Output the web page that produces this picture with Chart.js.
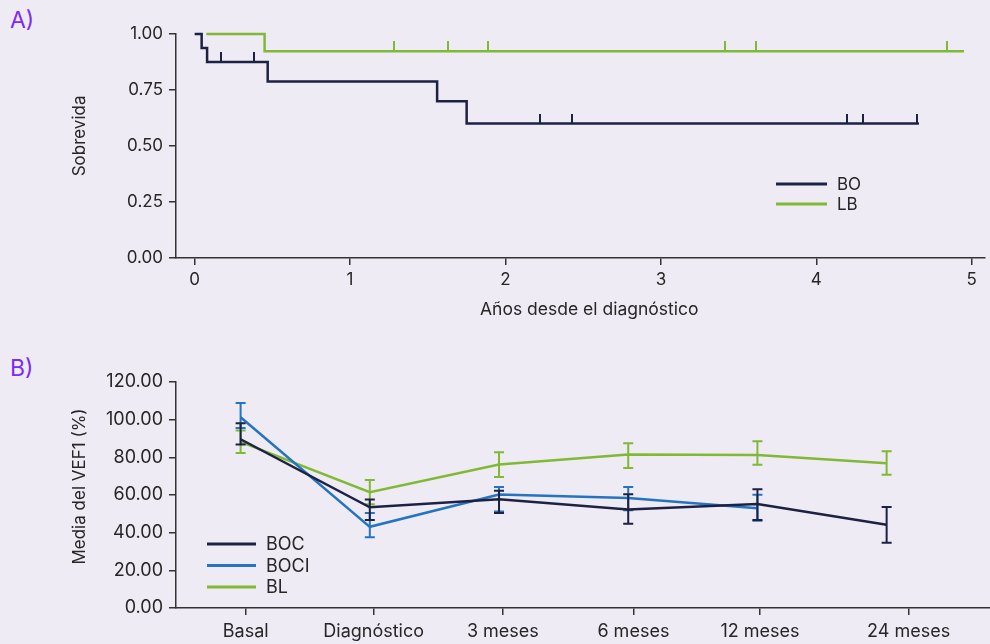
<!DOCTYPE html>
<html>
<head>
<meta charset="utf-8">
<script src="https://cdn.jsdelivr.net/npm/chart.js@4/dist/chart.umd.min.js"></script>
<style>
html, body { margin: 0; padding: 0; background: #eeebf4; }
body { width: 990px; height: 644px; position: relative; overflow: hidden; font-family: Inter, sans-serif; }
.panel { position: absolute; left: 0; }
.tag { position: absolute; left: 10px; color: #7b2cf2; font-size: 23px; line-height: 24px; }
</style>
</head>
<body>
<div class="tag" style="top:8px">A)</div>
<div class="tag" style="top:356px">B)</div>
<canvas id="chartA" class="panel" style="top:0" width="990" height="320"></canvas>
<canvas id="chartB" class="panel" style="top:320px" width="990" height="324"></canvas>
<script>
// Panel A - Kaplan-Meier survival (years since diagnosis)
var boTimes = [0, 0.045, 0.08, 0.47, 1.56, 1.75, 4.66];
var boSurv = [1, 0.9375, 0.875, 0.7875, 0.70, 0.60, 0.60];
var boCensored = [0.17, 0.38, 2.22, 2.43, 4.20, 4.30, 4.65];
var lbTimes = [0.075, 0.45, 4.95];
var lbSurv = [1, 0.923, 0.923];
var lbCensored = [1.28, 1.63, 1.89, 3.41, 3.61, 4.84];

// Panel B - mean FEV1 (%) with error bars
var timeLabels = ['Basal', 'Diagnóstico', '3 meses', '6 meses', '12 meses', '24 meses'];
// the category ticks in the figure sit a little right of the data points
var tickPositions = [0.04, 1.03, 2.03, 3.04, 4.02, 5.17];
var bocMean = [89.6, 53.5, 57.7, 52.3, 55.2, 44.2];
var bocHigh = [98.1, 57.6, 62.2, 60.4, 63.1, 53.6];
var bocLow = [86.8, 46.7, 50.5, 44.7, 46.7, 34.6];
var bociMean = [101.3, 43.1, 60.2, 58.4, 53.0];
var bociHigh = [108.9, 50.5, 64.3, 64.3, 60.1];
var bociLow = [95.6, 37.6, 51.3, 51.9, 46.3];
var blMean = [88.2, 61.5, 76.2, 81.5, 81.3, 76.9];
var blHigh = [94.2, 67.9, 82.7, 87.5, 88.5, 83.2];
var blLow = [82.3, 55.1, 69.6, 74.4, 76.0, 70.7];

var navy = '#1d2244';
var blue = '#2474c0';
var green = '#80b935';
var axisColor = '#333333';
var textColor = '#262626';

// Survival value at a given time (step function lookup)
function survAt(times, surv, t) {
    var s = surv[0];
    times.forEach(function (tt, i) {
        if (tt <= t) s = surv[i];
    });
    return s;
}

// Small vertical tick used as the censoring marker (sits on top of the curve)
function censorMark(color) {
    var c = document.createElement('canvas');
    c.width = 2;
    c.height = 20;
    var g = c.getContext('2d');
    g.fillStyle = color;
    g.fillRect(0, 0, 2, 10);
    return c;
}

function toXY(xs, ys) {
    return xs.map(function (x, i) { return { x: x, y: ys[i] }; });
}

// Legend drawn inside the plot like in the original figure
var lineLegend = {
    id: 'lineLegend',
    afterDraw: function (chart, args, opts) {
        var ctx = chart.ctx;
        ctx.save();
        ctx.font = opts.font;
        ctx.textBaseline = 'middle';
        var items = chart.data.datasets.filter(function (d) { return !d.censor; });
        items.forEach(function (ds, i) {
            var y = opts.y + i * opts.rowGap;
            ctx.strokeStyle = ds.borderColor;
            ctx.lineWidth = 3;
            ctx.beginPath();
            ctx.moveTo(opts.x, y);
            ctx.lineTo(opts.x + opts.lineLen, y);
            ctx.stroke();
            ctx.fillStyle = textColor;
            ctx.fillText(ds.label, opts.x + opts.lineLen + opts.gap, y + 1);
        });
        ctx.restore();
    }
};

// Error bars, drawn right after each dataset so the stacking order is kept
var errorBars = {
    id: 'errorBars',
    afterDatasetDraw: function (chart, args) {
        var ds = chart.data.datasets[args.index];
        if (!ds.errLow) return;
        var ctx = chart.ctx;
        var xs = chart.scales.x, ys = chart.scales.y;
        ctx.save();
        ctx.strokeStyle = ds.borderColor;
        ctx.lineWidth = 2;
        ds.data.forEach(function (p, i) {
            var x = xs.getPixelForValue(p.x);
            var yLo = ys.getPixelForValue(ds.errLow[i]);
            var yHi = ys.getPixelForValue(ds.errHigh[i]);
            ctx.beginPath();
            ctx.moveTo(x, yLo); ctx.lineTo(x, yHi);
            ctx.moveTo(x - 5, yLo); ctx.lineTo(x + 5, yLo);
            ctx.moveTo(x - 5, yHi); ctx.lineTo(x + 5, yHi);
            ctx.stroke();
        });
        ctx.restore();
    }
};

function axisGrid() {
    return { drawOnChartArea: false, drawTicks: true, tickLength: 7, color: axisColor, lineWidth: 1.5 };
}

// ---------- Chart A ----------
var boCensorPts = boCensored.map(function (t) { return { x: t, y: survAt(boTimes, boSurv, t) }; });
var lbCensorPts = lbCensored.map(function (t) { return { x: t, y: survAt(lbTimes, lbSurv, t) }; });

new Chart(document.getElementById('chartA'), {
    type: 'line',
    data: {
        datasets: [
            { label: 'BO', data: toXY(boTimes, boSurv), borderColor: navy, borderWidth: 2.5, stepped: 'before', pointRadius: 0, clip: false },
            { label: 'LB', data: toXY(lbTimes, lbSurv), borderColor: green, borderWidth: 2.5, stepped: 'before', pointRadius: 0, clip: false },
            { censor: true, label: 'BO cens', data: boCensorPts, showLine: false, pointStyle: censorMark(navy), borderColor: navy, clip: false },
            { censor: true, label: 'LB cens', data: lbCensorPts, showLine: false, pointStyle: censorMark(green), borderColor: green, clip: false }
        ]
    },
    options: {
        responsive: false,
        animation: false,
        layout: { padding: { left: 70, top: 34, right: 0, bottom: 0 } },
        plugins: {
            legend: { display: false },
            tooltip: { enabled: false },
            lineLegend: { x: 776, y: 184, rowGap: 20, lineLen: 51, gap: 10, font: '17px Inter' }
        },
        scales: {
            x: {
                type: 'linear', min: -0.12, max: 5.085,
                grid: axisGrid(),
                border: { color: axisColor, width: 1.5 },
                ticks: { stepSize: 1, includeBounds: false, color: textColor, font: { family: 'Inter', size: 17 }, padding: 5 },
                title: { display: true, text: '\u2003Años desde el diagnóstico', color: textColor, font: { family: 'Inter', size: 17.5 }, padding: { top: 0, bottom: 0 } },
                afterFit: function (s) { s.height = 62; }
            },
            y: {
                min: 0, max: 1,
                grid: axisGrid(),
                border: { color: axisColor, width: 1.5 },
                ticks: { stepSize: 0.25, color: textColor, font: { family: 'Inter', size: 17 }, padding: 6, callback: function (v) { return v.toFixed(2); } },
                title: { display: true, text: '\u2003\u2009Sobrevida', color: textColor, font: { family: 'Inter', size: 17 }, padding: { top: 0, bottom: 0 } },
                afterFit: function (s) { s.width = 106; }
            }
        }
    },
    plugins: [lineLegend]
});

// ---------- Chart B ----------
function idx(arr) { return arr.map(function (v, i) { return i; }); }

new Chart(document.getElementById('chartB'), {
    type: 'line',
    data: {
        datasets: [
            { label: 'BOC', data: toXY(idx(bocMean), bocMean), errLow: bocLow, errHigh: bocHigh, borderColor: navy, borderWidth: 2.5, pointRadius: 0, tension: 0, clip: false },
            { label: 'BOCI', data: toXY(idx(bociMean), bociMean), errLow: bociLow, errHigh: bociHigh, borderColor: blue, borderWidth: 2.5, pointRadius: 0, tension: 0, clip: false },
            { label: 'BL', data: toXY(idx(blMean), blMean), errLow: blLow, errHigh: blHigh, borderColor: green, borderWidth: 2.5, pointRadius: 0, tension: 0, clip: false }
        ]
    },
    options: {
        responsive: false,
        animation: false,
        layout: { padding: { left: 70, top: 62, right: 0, bottom: 0 } },
        plugins: {
            legend: { display: false },
            tooltip: { enabled: false },
            lineLegend: { x: 207, y: 224, rowGap: 21.5, lineLen: 49, gap: 10, font: '18px Inter' }
        },
        scales: {
            x: {
                type: 'linear', min: -0.5, max: 5.8,
                grid: axisGrid(),
                border: { color: axisColor, width: 1.5 },
                afterBuildTicks: function (s) {
                    s.ticks = tickPositions.map(function (v) { return { value: v }; });
                },
                ticks: { autoSkip: false, maxRotation: 0, color: textColor, font: { family: 'Inter', size: 18 }, padding: 6,
                    callback: function (v, i) { return timeLabels[i]; } },
                afterFit: function (s) { s.height = 36; }
            },
            y: {
                min: 0, max: 120,
                grid: axisGrid(),
                border: { color: axisColor, width: 1.5 },
                ticks: { stepSize: 20, color: textColor, font: { family: 'Inter', size: 18 }, padding: 6, callback: function (v) { return v.toFixed(2); } },
                title: { display: true, text: '\u2003Media del VEF1 (%)', color: textColor, font: { family: 'Inter', size: 17 }, padding: { top: 0, bottom: 0 } },
                afterFit: function (s) { s.width = 106; }
            }
        }
    },
    plugins: [lineLegend, errorBars]
});
</script>
</body>
</html>
